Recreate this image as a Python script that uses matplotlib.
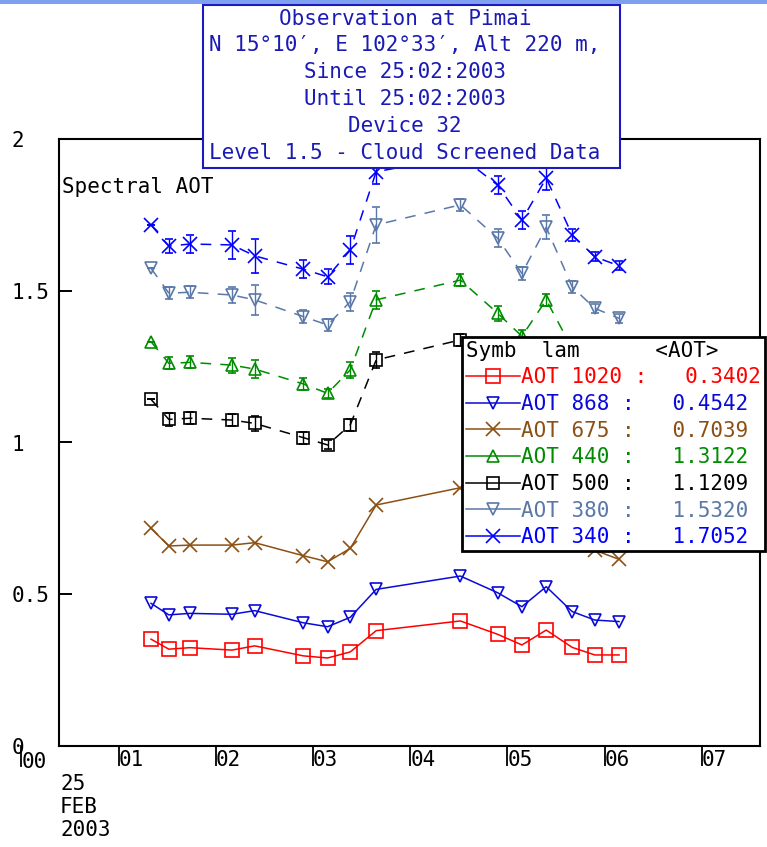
import matplotlib
matplotlib.use('Agg')
import matplotlib.pyplot as plt
import matplotlib.transforms as mtrans
from matplotlib.lines import Line2D
from matplotlib.patches import Rectangle
from matplotlib.font_manager import FontProperties

# observation times (UTC) on 25 Feb 2003
times = ['01:20', '01:31', '01:44', '02:10', '02:24', '02:54', '03:09', '03:23',
         '03:39', '04:31', '04:54', '05:09', '05:24', '05:40', '05:54', '06:09']
hours = [int(t[:2]) + int(t[3:]) / 60 for t in times]

aot_1020 = [0.352, 0.319, 0.324, 0.316, 0.330, 0.297, 0.290, 0.310,
            0.380, 0.412, 0.368, 0.333, 0.382, 0.325, 0.300, 0.300]
aot_868 = [0.470, 0.432, 0.437, 0.434, 0.446, 0.406, 0.393, 0.424,
           0.516, 0.560, 0.505, 0.459, 0.525, 0.443, 0.415, 0.410]
aot_675 = [0.717, 0.659, 0.662, 0.662, 0.670, 0.627, 0.607, 0.651,
           0.794, 0.851, 0.780, 0.710, 0.820, 0.690, 0.645, 0.615]
aot_440 = [1.332, 1.261, 1.264, 1.255, 1.242, 1.193, 1.162, 1.239,
           1.470, 1.535, 1.426, 1.350, 1.470, 1.310, 1.260, 1.230]
aot_500 = [1.142, 1.076, 1.080, 1.074, 1.063, 1.016, 0.992, 1.058,
           1.272, 1.338, 1.220, 1.150, 1.250, 1.120, 1.080, 1.050]
aot_380 = [1.574, 1.492, 1.495, 1.486, 1.470, 1.415, 1.387, 1.464,
           1.717, 1.783, 1.673, 1.557, 1.709, 1.513, 1.442, 1.409]
aot_340 = [1.717, 1.647, 1.654, 1.651, 1.615, 1.571, 1.546, 1.634,
           1.892, 1.944, 1.848, 1.733, 1.871, 1.684, 1.612, 1.582]

# rough error bars
err_440 = [0.0, 0.02, 0.02, 0.025, 0.03, 0.02, 0.015, 0.025,
           0.03, 0.02, 0.025, 0.02, 0.02, 0.02, 0.02, 0.02]
err_500 = [0.0, 0.02, 0.02, 0.02, 0.025, 0.02, 0.015, 0.02,
           0.025, 0.02, 0.02, 0.02, 0.02, 0.02, 0.02, 0.02]
err_380 = [0.0, 0.02, 0.02, 0.027, 0.05, 0.02, 0.02, 0.03,
           0.06, 0.02, 0.03, 0.02, 0.04, 0.02, 0.015, 0.015]
err_340 = [0.0, 0.022, 0.03, 0.045, 0.055, 0.03, 0.025, 0.045,
           0.04, 0.03, 0.03, 0.03, 0.04, 0.02, 0.015, 0.015]

lams = ['1020', '868', '675', '440', '500', '380', '340']
mean_aot = [0.3402, 0.4542, 0.7039, 1.3122, 1.1209, 1.5320, 1.7052]
values = [aot_1020, aot_868, aot_675, aot_440, aot_500, aot_380, aot_340]
errors = [None, None, None, err_440, err_500, err_380, err_340]

colors = ['#ff0000', '#0a0ad8', '#8c5014', '#008c00', '#000000', '#5a78a8', '#0000ff']
markers = ['s', 'v', 'x', '^', 's', 'v', 'x']
msizes = [9.5, 8.5, 9.5, 8, 8, 8.5, 10]
dashed = [False, False, False, True, True, True, True]

ytick_vals = [0, 0.5, 1, 1.5, 2]
ytick_labs = ['0', '0.5', '1', '1.5', '2']
xtick_vals = [1, 2, 3, 4, 5, 6, 7]
xtick_labs = ['01', '02', '03', '04', '05', '06', '07']

title_lines = ['Observation at Pimai',
               'N 15°10′, E 102°33′, Alt 220 m,',
               'Since 25:02:2003',
               'Until 25:02:2003',
               'Device 32',
               'Level 1.5 - Cloud Screened Data']

W, H = 767, 847
def fx(px):
    return px / W
def fy(py):
    return 1 - py / H

mono = FontProperties(family='DejaVu Sans Mono', size=15)

fig = plt.figure(figsize=(W / 100, H / 100), dpi=100)
ax = fig.add_axes([fx(58.5), fy(746), (760 - 58.5) / W, (746 - 139) / H])

for vals, err, c, m, ms, d in zip(values, errors, colors, markers, msizes, dashed):
    ls = (0, (7, 6)) if d else '-'
    ax.errorbar(hours, vals, yerr=err, color=c, ecolor=c, ls=ls, lw=1.1,
                marker=m, ms=ms, mfc='none', mec=c, mew=1.2,
                elinewidth=1, capsize=3, capthick=1)

ax.set_xlim(0.381, 7.60)
ax.set_ylim(0, 2)
for s in ax.spines.values():
    s.set_linewidth(1.5)

ax.set_yticks(ytick_vals)
ax.set_yticklabels(ytick_labs, fontproperties=mono, ha='left')
ax.tick_params(axis='y', direction='in', length=9.5, width=1.4, pad=34)
ax.set_xticks(xtick_vals)
ax.set_xticklabels(xtick_labs, fontproperties=mono, ha='left')
ax.tick_params(axis='x', direction='out', length=14.5, width=1.3, pad=-11.5)

# the 00 tick sits left of the frame
trans = mtrans.blended_transform_factory(ax.transData, ax.transAxes)
ax.add_line(Line2D([0, 0], [0, -20 / 607], transform=trans, color='black',
                   lw=1.3, clip_on=False))
ax.annotate('00', xy=(0, 0), xycoords=trans, xytext=(0, -6),
            textcoords='offset pixels', ha='left', va='top', fontproperties=mono)

fig.text(fx(60), fy(774), '25\nFEB\n2003', ha='left', va='top',
         fontproperties=mono, linespacing=1.2)
fig.text(fx(62), fy(187), 'Spectral AOT', ha='left', va='center', fontproperties=mono)

# title box
fig.patches.append(Rectangle((fx(203), fy(168)), (620 - 203) / W, (168 - 5) / H,
                             transform=fig.transFigure, facecolor='white',
                             edgecolor='#1a1ac0', lw=1.5, zorder=5))
for yc, line in zip([19, 45, 72, 99, 126, 153], title_lines):
    fig.text(fx(405), fy(yc), line, ha='center', va='center', color='#1a1ab4',
             fontproperties=mono, zorder=6)

# window border strip at the top
fig.patches.append(Rectangle((0, fy(4.5)), 1, 4.5 / H, transform=fig.transFigure,
                             facecolor='#7f9ff0', edgecolor='none', zorder=6))

handles = [Line2D([], [], color=c, lw=1.1, marker=m, ms=ms, mfc='none', mec=c, mew=1.2)
           for c, m, ms in zip(colors, markers, msizes)]
labels = ['AOT %s :   %.4f' % (l, v) for l, v in zip(lams, mean_aot)]
leg = fig.legend(handles, labels, loc='upper left', bbox_to_anchor=(fx(462), fy(337)),
                 prop=mono, title='Symb  lam      <AOT>', title_fontproperties=mono,
                 alignment='left', labelcolor=colors, fancybox=False,
                 edgecolor='black', framealpha=1, borderpad=0.18, borderaxespad=0,
                 handlelength=2.6, handletextpad=0.05, labelspacing=0.32)
leg.get_frame().set_linewidth(2)
leg.set_zorder(7)

fig.savefig('out.png', dpi=100)
